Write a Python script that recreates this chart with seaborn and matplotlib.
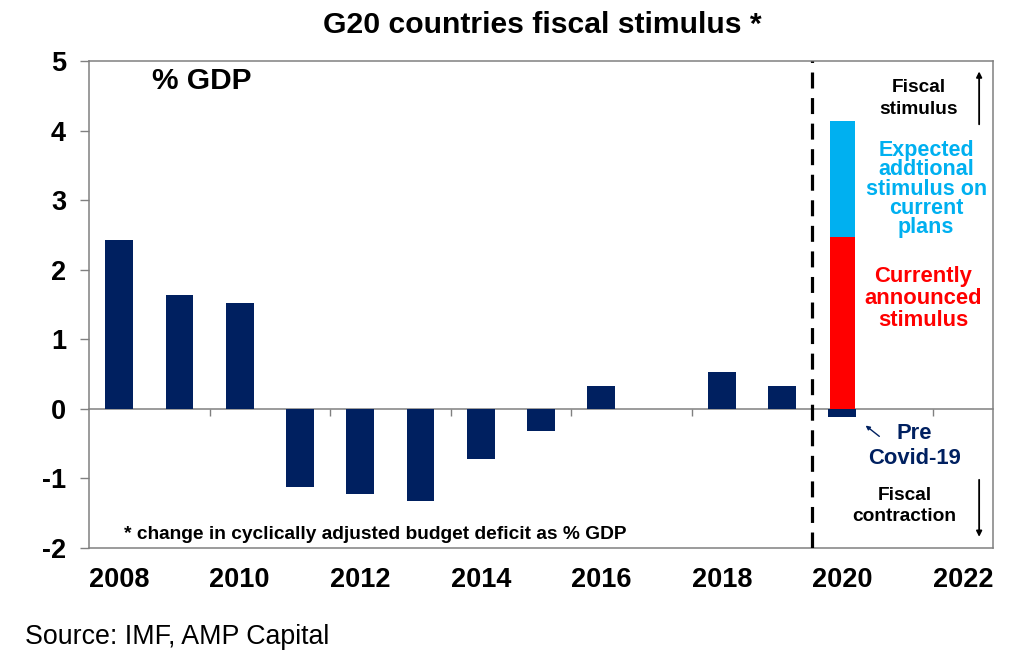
import numpy as np
import pandas as pd
import seaborn as sns
import matplotlib.pyplot as plt

# ---------------- Data ----------------
YEARS = [str(y) for y in range(2008, 2023)]
BAR_YEARS = ["2008", "2009", "2010", "2011", "2012", "2013", "2014", "2015",
             "2016", "2018", "2019", "2020"]
PRE_COVID = [2.43, 1.63, 1.52, -1.12, -1.23, -1.32, -0.72, -0.32,
             0.33, 0.53, 0.33, -0.11]
ANNOUNCED_2020 = 2.47
EXPECTED_ADD_2020 = 1.67
YTICKS = [-2, -1, 0, 1, 2, 3, 4, 5]

NAVY = "#002060"
LIGHT_BLUE = "#00B0F0"
RED = "#FF0000"
GREY = "#808080"

# ---------------- Style ----------------
sns.set_style("white")
plt.rcParams['font.family'] = ['Liberation Sans', 'DejaVu Sans']
plt.rcParams['text.color'] = "black"

fig = plt.figure(figsize=(10.24, 6.69), dpi=100)
W, H = 1024, 669
ax = fig.add_axes([89 / W, 1 - 548 / H, (993 - 89) / W, (548 - 61) / H])

df_pre = pd.DataFrame({"year": BAR_YEARS, "value": PRE_COVID})
df_total = pd.DataFrame({"year": ["2020"], "value": [ANNOUNCED_2020 + EXPECTED_ADD_2020]})
df_ann = pd.DataFrame({"year": ["2020"], "value": [ANNOUNCED_2020]})

# stacked 2020 bar: total in light blue, announced over it in red
sns.barplot(data=df_total, x="year", y="value", order=YEARS, color=LIGHT_BLUE,
            saturation=1, width=0.41, errorbar=None, linewidth=0, ax=ax)
sns.barplot(data=df_ann, x="year", y="value", order=YEARS, color=RED,
            saturation=1, width=0.41, errorbar=None, linewidth=0, ax=ax)
sns.barplot(data=df_pre, x="year", y="value", order=YEARS, color=NAVY,
            saturation=1, width=0.46, errorbar=None, linewidth=0, ax=ax)

ax.set_xlim(-0.5, len(YEARS) - 0.5)
ax.set_ylim(-2, 5)
ax.set_xlabel("")
ax.set_ylabel("")

# y axis
ax.set_yticks(YTICKS)
ax.set_yticklabels([str(v) for v in YTICKS], fontsize=19.5, fontweight="bold")
ax.tick_params(axis="y", direction="out", length=6.5, width=1, color=GREY,
               labelcolor="black", pad=10, left=True)

# x labels every second year, at the bottom
ax.set_xticks(range(0, len(YEARS), 2))
ax.set_xticklabels(YEARS[::2], fontsize=19.5, fontweight="bold")
ax.tick_params(axis="x", length=0, pad=14, labelcolor="black")

for sp in ax.spines.values():
    sp.set_color(GREY)
    sp.set_linewidth(1.1)

# zero line with category-boundary ticks
zero_frac = (0 - (-2)) / 7
sec = ax.secondary_xaxis(zero_frac)
sec.set_xticks(np.arange(1.5, len(YEARS) - 1, 2))
sec.set_xticklabels([])
sec.tick_params(direction="out", length=5, width=1, color=GREY)
sec.spines["bottom"].set_color(GREY)
sec.spines["bottom"].set_linewidth(1.1)

# forecast divider
ax.axvline(11.5, color="black", lw=2.3, ls=(0, (5, 3)), zorder=5)

# ---------------- Annotations ----------------
ax.text(0.545, 4.71, "% GDP", fontsize=21.5, fontweight="bold", ha="left", va="center")
ax.text(0.08, -1.81, "* change in cyclically adjusted budget deficit as % GDP",
        fontsize=13.8, fontweight="bold", ha="left", va="center")

ax.text(13.27, 4.46, "Fiscal\nstimulus", fontsize=13.7, fontweight="bold",
        ha="center", va="center", linespacing=1.4)
ax.annotate("", xy=(14.27, 4.89), xytext=(14.27, 4.05),
            arrowprops=dict(arrowstyle="-|>", color="black", lw=1.3, mutation_scale=8))

ax.text(13.39, 3.16, "Expected\naddtional\nstimulus on\ncurrent\nplans", fontsize=15.5,
        fontweight="bold", color=LIGHT_BLUE, ha="center", va="center", linespacing=0.9)
ax.text(13.34, 1.59, "Currently\nannounced\nstimulus", fontsize=15.8,
        fontweight="bold", color=RED, ha="center", va="center", linespacing=1.05)

ax.text(13.2, -0.53, "Pre\nCovid-19", fontsize=15.8, fontweight="bold", color=NAVY,
        ha="center", va="center", linespacing=1.25)
ax.annotate("", xy=(12.35, -0.215), xytext=(12.65, -0.42),
            arrowprops=dict(arrowstyle="-|>", color=NAVY, lw=1.0, mutation_scale=6))

ax.text(13.03, -1.40, "Fiscal\ncontraction", fontsize=13.8, fontweight="bold",
        ha="center", va="center", linespacing=1.3)
ax.annotate("", xy=(14.27, -1.88), xytext=(14.27, -0.98),
            arrowprops=dict(arrowstyle="-|>", color="black", lw=1.3, mutation_scale=8))

fig.text(542 / W, 1 - 25 / H, "G20 countries fiscal stimulus *", fontsize=21.7,
         fontweight="bold", ha="center", va="center")
fig.text(25 / W, 1 - 637 / H, "Source: IMF, AMP Capital", fontsize=19.3,
         ha="left", va="center")

fig.savefig("out.png", dpi=100)
